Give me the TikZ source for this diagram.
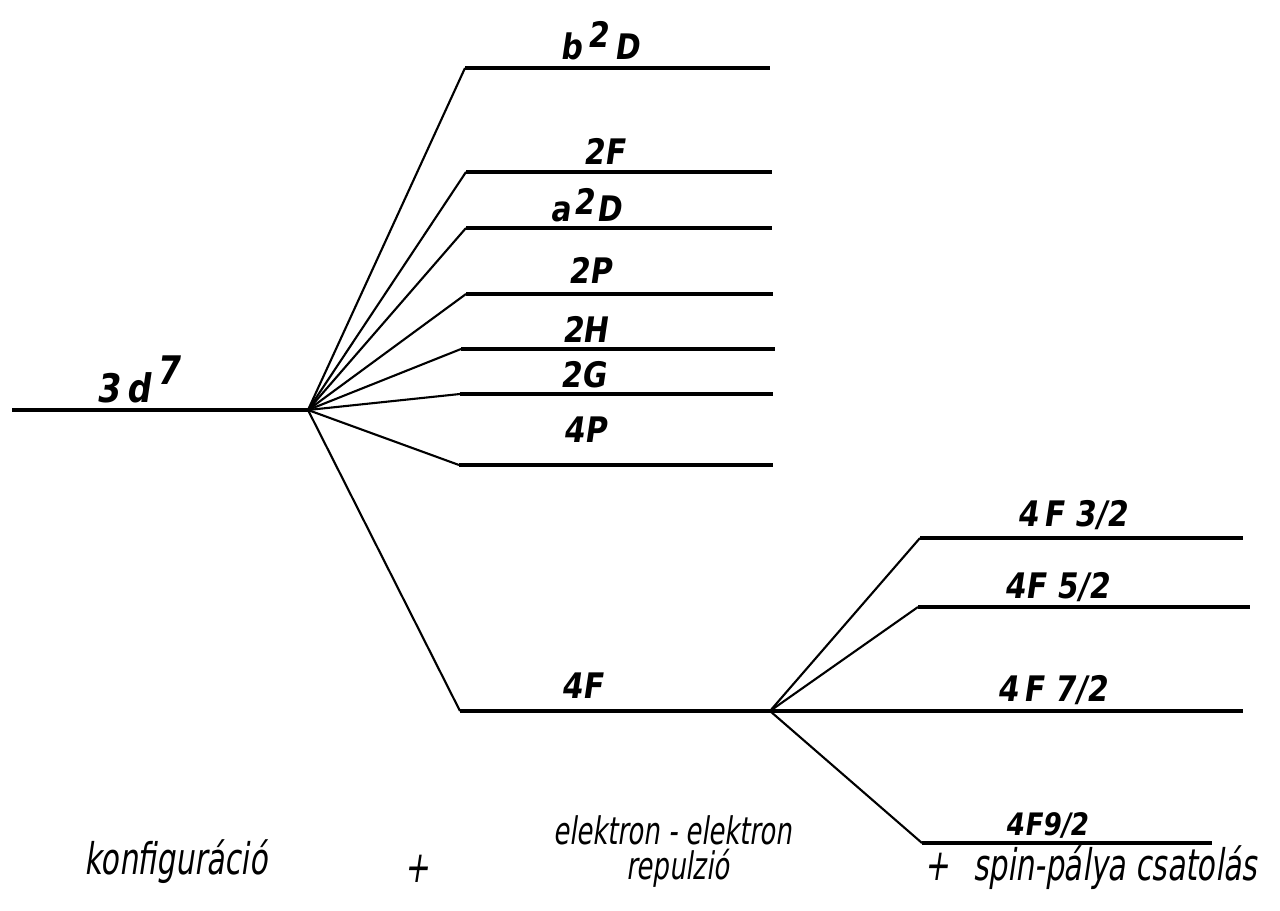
\documentclass[tikz,border=0pt]{standalone}
\usepackage{fontspec}
\setmainfont{DejaVu Sans}
\newfontfamily\hand[FakeSlant=0.15,FakeStretch=0.85]{DejaVu Sans Bold}
\newfontfamily\handnarrow[FakeSlant=0.15,FakeStretch=0.68]{DejaVu Sans}

\begin{document}
\begin{tikzpicture}[x=0.025cm,y=-0.025cm,
  lvl/.style={line width=2.4pt},
  branch/.style={line width=1.5pt},
  term/.style={font=\hand\fontsize{25}{27}\selectfont, anchor=base, inner sep=0pt},
  caption/.style={font=\handnarrow\fontsize{31}{33}\selectfont, anchor=base, inner sep=0pt}]

\useasboundingbox (0,0) rectangle (1280,911);

% =====================================================================
% Configuration level 3d^7
% =====================================================================
\coordinate (conf-l) at (12,410);
\coordinate (conf) at (308,410);
\draw[lvl] (conf-l) -- (conf);
\node[term, font=\hand\fontsize{28}{30}\selectfont] (conf-lab) at (138,402)
  {3\,d\,\raisebox{0.45em}{7}};

% =====================================================================
% Terms from electron--electron repulsion
% name / y / left x / right x
% =====================================================================
\foreach \nm/\yl/\xl/\xr in {bD/68/465/770, dF/172/466/772, aD/228/466/772,
                             dP/294/466/773, dH/349/461/775, dG/394/460/773,
                             qP/465/459/773, qF/711/460/770}{
  \coordinate (\nm-l) at (\xl,\yl);
  \coordinate (\nm-r) at (\xr,\yl);
  \draw[branch] (conf) -- (\nm-l);
  \draw[lvl] (\nm-l) -- (\nm-r);
}

\node[term] (bD-lab) at (600,60)  {b\,\raisebox{0.35em}{2}\,D};
\node[term] (dF-lab) at (604,165) {2F};
\node[term] (aD-lab) at (586,222) {a\kern0.08em\raisebox{0.2em}{2}\kern0.08em D};
\node[term] (dP-lab) at (590,284) {2P};
\node[term] (dH-lab) at (585,343) {2H};
\node[term] (dG-lab) at (583,387) {2G};
\node[term] (qP-lab) at (585,442) {4P};
\node[term] (qF-lab) at (582,698) {4F};

% =====================================================================
% Spin--orbit splitting of 4F
% name / y / left x / right x
% =====================================================================
\foreach \nm/\yl/\xl/\xr in {jA/538/920/1243, jB/607/918/1250,
                             jD/843/922/1212}{
  \coordinate (\nm-l) at (\xl,\yl);
  \coordinate (\nm-r) at (\xr,\yl);
  \draw[branch] (qF-r) -- (\nm-l);
  \draw[lvl] (\nm-l) -- (\nm-r);
}
% 4F 7/2 continues the 4F line
\coordinate (jC-r) at (1243,711);
\draw[lvl] (qF-r) -- (jC-r);

\node[term] (jA-lab) at (1072,526) {4\,F 3/2};
\node[term] (jB-lab) at (1057,598) {4F 5/2};
\node[term] (jC-lab) at (1052,701) {4\,F 7/2};
\node[term, font=\hand\fontsize{22}{24}\selectfont] (jD-lab) at (1047,835) {4F9/2};

% =====================================================================
% Captions
% =====================================================================
\node[caption] (cap-conf) at (176,874) {konfiguráció};
\node[caption] (plus-a) at (417,882) {+};
\node[caption, font=\handnarrow\fontsize{27}{29}\selectfont] (cap-ee) at (673,844)
  {elektron - elektron};
\node[caption, font=\handnarrow\fontsize{27}{29}\selectfont] (cap-rep) at (678,879)
  {repulzió};
\node[caption] (plus-b) at (937,880) {+};
\node[caption] (cap-so) at (1115,880) {spin-pálya csatolás};

\end{tikzpicture}
\end{document}
